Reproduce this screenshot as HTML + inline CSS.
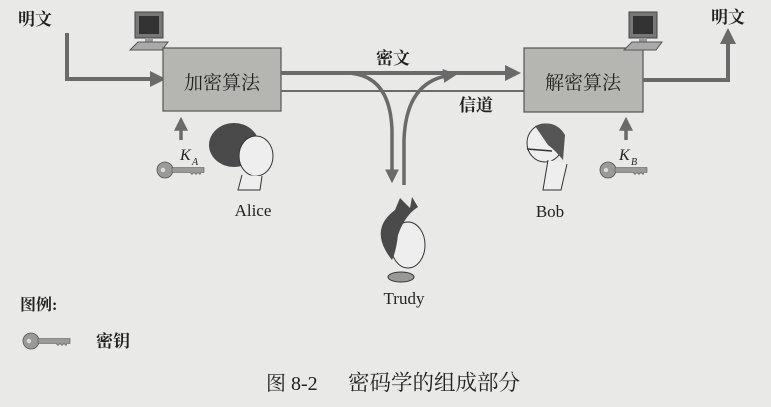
<!DOCTYPE html>
<html><head><meta charset="utf-8"><style>
html,body{margin:0;padding:0;background:#e9e9e7;}
svg{display:block}
text{font-family:"Liberation Serif","Noto Serif CJK SC",serif;fill:#222}
.b{font-weight:bold}
</style></head><body>
<svg width="771" height="407" viewBox="0 0 771 407" xmlns="http://www.w3.org/2000/svg">
<defs>
<marker id="ah" markerWidth="4" markerHeight="4" refX="2.5" refY="2" orient="auto" markerUnits="strokeWidth"><path d="M0,0 L4,2 L0,4 z" fill="#6a6a6a"/></marker>
<g id="key"><circle cx="9" cy="8" r="8" fill="#9a9a96" stroke="#555" stroke-width="0.8"/><circle cx="7" cy="8" r="2.2" fill="#ddd"/><path d="M16,5.5 h32 v5 h-3 l-1,2 -2,-2 -2,2 -2,-2 -2,2 -2,-2 -18,0z" fill="#9a9a96" stroke="#555" stroke-width="0.6"/></g>
<g id="pc"><path d="M5,0 h28 v26 h-28z" fill="#777" stroke="#444"/><rect x="9" y="4" width="20" height="18" fill="#333"/><rect x="15" y="26" width="8" height="4" fill="#999"/><path d="M0,38 l8,-8 h30 l-6,8z" fill="#aaa" stroke="#555"/></g>
</defs>
<text x="18" y="25" font-size="17" class="b">明文</text>
<path d="M67,33 V79 H160" fill="none" stroke="#6a6a6a" stroke-width="4" marker-end="url(#ah)"/>
<use href="#pc" x="130" y="12"/>
<rect x="163" y="48" width="118" height="63" fill="#b5b5b1" stroke="#555" stroke-width="1.2"/>
<text x="222" y="89" font-size="19" text-anchor="middle">加密算法</text>
<path d="M281,73 H515" fill="none" stroke="#6a6a6a" stroke-width="4" marker-end="url(#ah)"/>
<line x1="281" y1="91" x2="524" y2="91" stroke="#6a6a6a" stroke-width="2"/>
<text x="393" y="64" font-size="17" class="b" text-anchor="middle">密文</text>
<text x="476" y="111" font-size="17" class="b" text-anchor="middle">信道</text>
<path d="M345,73 Q390,73 392,130 L392,178" fill="none" stroke="#6a6a6a" stroke-width="3.5" marker-end="url(#ah)"/>
<path d="M404,185 L404,140 Q406,80 452,75" fill="none" stroke="#6a6a6a" stroke-width="3.5" marker-end="url(#ah)"/>
<rect x="524" y="48" width="119" height="64" fill="#b5b5b1" stroke="#555" stroke-width="1.2"/>
<text x="583" y="89" font-size="19" text-anchor="middle">解密算法</text>
<use href="#pc" x="624" y="12"/>
<path d="M643,80 H728 V34" fill="none" stroke="#6a6a6a" stroke-width="4" marker-end="url(#ah)"/>
<text x="711" y="23" font-size="17" class="b">明文</text>
<path d="M181,140 V122" stroke="#6a6a6a" stroke-width="3.5" marker-end="url(#ah)"/>
<text x="180" y="160" font-size="16" font-style="italic">K</text><text x="192" y="165" font-size="10" font-style="italic">A</text>
<use href="#key" x="156" y="162"/>
<path d="M626,140 V122" stroke="#6a6a6a" stroke-width="3.5" marker-end="url(#ah)"/>
<text x="619" y="160" font-size="16" font-style="italic">K</text><text x="631" y="165" font-size="10" font-style="italic">B</text>
<use href="#key" x="599" y="162"/>
<ellipse cx="234" cy="145" rx="25" ry="22" fill="#4a4a4a"/>
<ellipse cx="256" cy="156" rx="17" ry="20" fill="#eee" stroke="#333"/>
<path d="M242,175 l-4,15 h22 l2,-14" fill="#eee" stroke="#333"/>
<text x="253" y="216" font-size="17" text-anchor="middle">Alice</text>
<ellipse cx="545" cy="143" rx="18" ry="19" fill="#eee" stroke="#333"/>
<path d="M535,126 Q555,118 565,135 L563,160 Q555,150 548,145z" fill="#555"/>
<line x1="527" y1="149" x2="552" y2="151" stroke="#333" stroke-width="1.5"/>
<path d="M548,160 l-5,30 h18 l6,-26" fill="#eee" stroke="#333"/>
<text x="550" y="217" font-size="17" text-anchor="middle">Bob</text>
<ellipse cx="408" cy="245" rx="17" ry="23" fill="#eee" stroke="#333"/>
<path d="M392,260 Q368,230 395,210 L400,198 L410,208 L412,197 L418,207 Q405,215 398,235 Q396,252 392,260z" fill="#4a4a4a"/>
<ellipse cx="401" cy="277" rx="13" ry="5" fill="#999" stroke="#333"/>
<text x="404" y="304" font-size="17" text-anchor="middle">Trudy</text>
<text x="20" y="310" font-size="16" class="b">图例:</text>
<use href="#key" x="22" y="333"/>
<text x="96" y="347" font-size="17" class="b">密钥</text>
<text x="266" y="390" font-size="20">图 8-2</text>
<text x="348" y="390" font-size="21.5">密码学的组成部分</text>
</svg>
</body></html>
